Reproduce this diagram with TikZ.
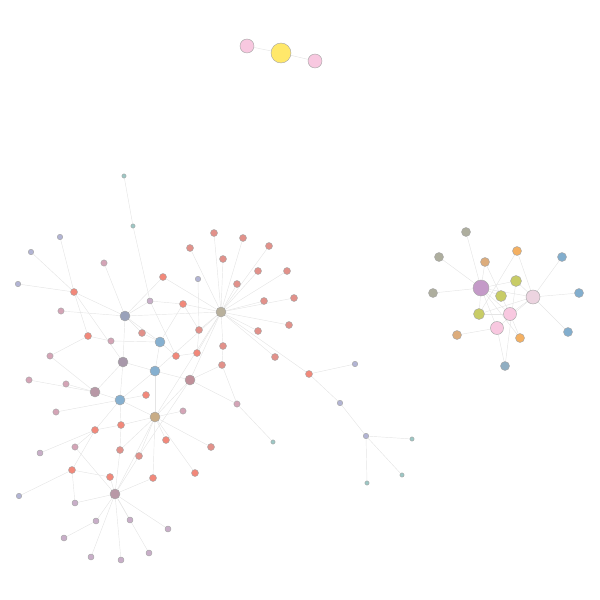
\documentclass[tikz,border=0pt]{standalone}
\usepackage{xcolor}
\definecolor{salmon}    {HTML}{F2887A}
\definecolor{dustyRed}  {HTML}{E2918A}
\definecolor{mauve}     {HTML}{D4A4B6}
\definecolor{lilac}     {HTML}{C8AEC8}
\definecolor{lavender}  {HTML}{B2B4D4}
\definecolor{tealPale}  {HTML}{9CC8C6}
\definecolor{hubTan}    {HTML}{B8B09C}
\definecolor{hubSlate}  {HTML}{9AA2BA}
\definecolor{hubBlue}   {HTML}{86B0D0}
\definecolor{hubMauve}  {HTML}{A898AA}
\definecolor{hubRose}   {HTML}{C0909A}
\definecolor{hubPlum}   {HTML}{B898A6}
\definecolor{hubSand}   {HTML}{C8AC86}
\definecolor{purpleHub} {HTML}{C49AC8}
\definecolor{blush}     {HTML}{ECD4E0}
\definecolor{pinkNode}  {HTML}{F8C8E0}
\definecolor{lime}      {HTML}{C8CC66}
\definecolor{orangeNode}{HTML}{F4B062}
\definecolor{tanNode}   {HTML}{DCAC7C}
\definecolor{grayNode}  {HTML}{AEAE9E}
\definecolor{blueNode}  {HTML}{82AECE}
\definecolor{blueGray}  {HTML}{90AEC2}
\definecolor{yellowNode}{HTML}{FFE86A}
\usetikzlibrary{backgrounds}
\tikzset{
    dot/.style={circle, draw=black!35, line width=0.25pt, inner sep=0pt},
    dsalmon/.style={dot, fill=salmon, minimum size=1.4mm},
    ddusty/.style={dot, fill=dustyRed, minimum size=1.4mm},
    dmauve/.style={dot, fill=mauve, minimum size=1.25mm},
    dlilac/.style={dot, fill=lilac, minimum size=1.2mm},
    dlav/.style={dot, fill=lavender, minimum size=1.1mm},
    dteal/.style={dot, fill=tealPale, minimum size=0.85mm},
    dhub/.style={dot, minimum size=2mm},
    dbig/.style={dot, minimum size=1.8mm},
    link/.style={-, line width=0.25pt, black!10},
}
\begin{document}
\begin{tikzpicture}[x=0.2mm, y=-0.2mm]
    \useasboundingbox (0,0) rectangle (600,600);
    % hubs of the large component
    \node[dhub, fill=hubTan]   (h1)  at (221,312) {};
    \node[dhub, fill=hubSlate] (h2)  at (125,316) {};
    \node[dhub, fill=hubBlue]  (h3)  at (160,342) {};
    \node[dhub, fill=hubMauve] (h4)  at (123,362) {};
    \node[dhub, fill=hubBlue]  (h5)  at (155,371) {};
    \node[dhub, fill=hubRose]  (h6)  at (190,380) {};
    \node[dhub, fill=hubPlum]  (h7)  at (95,392)  {};
    \node[dhub, fill=hubBlue]  (h8)  at (120,400) {};
    \node[dhub, fill=hubSand]  (h9)  at (155,417) {};
    \node[dhub, fill=hubPlum]  (h10) at (115,494) {};
    % leaves of the large component
    \foreach \n/\x/\y in {sa1/74/292, sa2/88/336, sa3/163/277, sa4/183/304,
        sa5/176/356, sa6/197/353, sa7/309/374, sa8/146/395, sa9/95/430,
        sa10/121/425, sa11/166/440, sa12/72/470, sa13/110/477, sa14/153/478,
        sa15/195/473}
        \node[dsalmon] (\n) at (\x,\y) {};
    \foreach \n/\x/\y in {du1/190/248, du2/214/233, du3/243/238, du4/269/246,
        du5/223/259, du6/258/271, du7/287/271, du8/237/284, du9/294/298,
        du10/264/301, du11/199/330, du12/258/331, du13/289/325, du14/142/333,
        du15/223/346, du16/222/365, du17/275/357, du18/120/450, du19/139/456,
        du20/211/447}
        \node[ddusty] (\n) at (\x,\y) {};
    \foreach \n/\x/\y in {mv1/104/263, mv2/61/311, mv3/111/341, mv4/50/356,
        mv5/29/380, mv6/66/384, mv7/56/412, mv8/75/447, mv9/183/411,
        mv10/237/404}
        \node[dmauve] (\n) at (\x,\y) {};
    \foreach \n/\x/\y in {li1/150/301, li2/40/453, li3/75/503, li4/96/521,
        li5/130/520, li6/168/529, li7/64/538, li8/91/557, li9/121/560,
        li10/149/553}
        \node[dlilac] (\n) at (\x,\y) {};
    \foreach \n/\x/\y in {lv1/31/252, lv2/60/237, lv3/18/284, lv4/198/279,
        lv5/19/496, lv6/355/364, lv7/340/403, lv8/366/436}
        \node[dlav] (\n) at (\x,\y) {};
    \foreach \n/\x/\y in {te1/124/176, te2/133/226, te3/412/439, te4/402/475,
        te5/367/483, te6/273/442}
        \node[dteal] (\n) at (\x,\y) {};
    % right-hand cluster
    \node[dot, fill=purpleHub, minimum size=3.2mm] (rhub) at (481,288) {};
    \node[dot, fill=blush,     minimum size=2.8mm] (rbl)  at (533,297) {};
    \node[dot, fill=pinkNode,  minimum size=2.6mm] (rp1)  at (510,314) {};
    \node[dot, fill=pinkNode,  minimum size=2.6mm] (rp2)  at (497,328) {};
    \node[dot, fill=lime, minimum size=2.2mm] (rl1) at (516,281) {};
    \node[dot, fill=lime, minimum size=2.2mm] (rl2) at (501,296) {};
    \node[dot, fill=lime, minimum size=2.2mm] (rl3) at (479,314) {};
    \node[dbig, fill=grayNode]   (rg1) at (466,232) {};
    \node[dbig, fill=grayNode]   (rg2) at (439,257) {};
    \node[dbig, fill=grayNode]   (rg3) at (433,293) {};
    \node[dbig, fill=tanNode]    (rt1) at (485,262) {};
    \node[dbig, fill=tanNode]    (rt2) at (457,335) {};
    \node[dbig, fill=orangeNode] (ro1) at (517,251) {};
    \node[dbig, fill=orangeNode] (ro2) at (520,338) {};
    \node[dbig, fill=blueNode]   (rb1) at (562,257) {};
    \node[dbig, fill=blueNode]   (rb2) at (579,293) {};
    \node[dbig, fill=blueNode]   (rb3) at (568,332) {};
    \node[dbig, fill=blueGray]   (rb4) at (505,366) {};
    % top triple
    \node[dot, fill=pinkNode,   minimum size=2.8mm] (tp1) at (247,46) {};
    \node[dot, fill=yellowNode, minimum size=4mm]   (ty)  at (281,53) {};
    \node[dot, fill=pinkNode,   minimum size=2.8mm] (tp2) at (315,61) {};
    % links, kept behind the dots
    \begin{pgfonlayer}{background}
    \foreach \a/\b in {h1/du1, h1/du2, h1/du3, h1/du4, h1/du5, h1/du6, h1/du7,
        h1/du8, h1/du9, h1/du10, h1/du12, h1/du13, h1/du17, h1/sa7, h1/sa4,
        h1/du11, h1/du15, h1/sa6, h1/h2, h1/sa3, h1/h9, h1/h6, h1/h5,
        h2/sa1, h2/mv1, h2/mv2, h2/sa3, h2/li1, h2/du14, h2/h3, h2/h4,
        sa1/lv1, sa1/lv2, sa1/lv3, sa1/sa2, sa1/h4,
        te1/te2, te2/li1, lv4/du11, sa2/mv3, mv3/h3, mv4/sa2,
        li1/sa4, li1/sa5, sa4/h3, h3/sa5, h3/h5, du14/h3,
        sa5/sa6, sa6/du11, du11/sa4, du15/du16, du16/h6, h6/mv10,
        mv10/te6, mv10/du16, h4/h5, h4/h7, h4/h8, h5/h6, h5/h8, h5/h9,
        h7/mv5, h7/mv6, h7/h8, h7/mv4, h8/sa8, h8/mv7, h8/sa10, h8/h9,
        h8/sa9, sa9/sa10, sa10/h9, sa10/du18,
        h9/sa11, h9/sa15, h9/sa14, h9/du19, h9/du18, h9/h10, h9/mv9,
        h9/du20, h9/h6, li2/sa9, sa9/sa12, lv5/sa12, sa12/sa13, sa12/li3,
        mv8/h10, mv8/sa9, h10/li3, h10/li4, h10/li5, h10/li6, h10/li8,
        h10/li9, h10/li10, h10/sa13, h10/sa14, h10/du19, h10/du18,
        li4/li7, du19/h6, sa7/lv6, sa7/lv7, lv7/lv8, lv8/te3, lv8/te4,
        lv8/te5,
        rhub/rg1, rhub/rg2, rhub/rg3, rhub/rt1, rhub/rl1, rhub/rl2,
        rhub/rbl, rhub/rl3, rhub/rp1, rhub/rp2, rhub/ro2, ro1/rbl,
        ro1/rl3, rb1/rbl, rb2/rbl, rb3/rbl, rt2/rp2, rb4/rp2, rb4/rl1,
        rl3/rp1, rl1/rbl, rp1/rbl, rl2/rp1, rp2/rbl, rl3/rbl, rp1/ro2,
        rt1/rl2,
        tp1/ty, ty/tp2}
        \draw[link] (\a) -- (\b);
    \end{pgfonlayer}
\end{tikzpicture}
\end{document}
